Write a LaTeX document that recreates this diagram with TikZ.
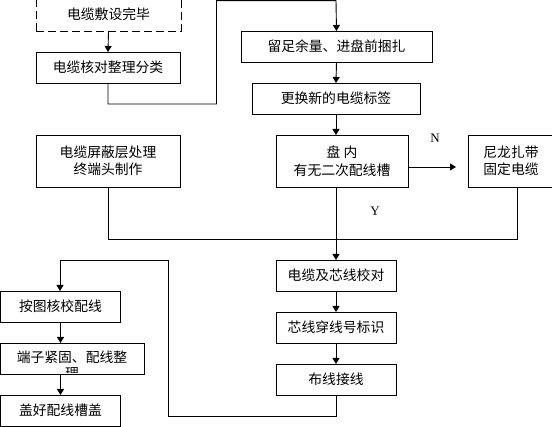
\documentclass[tikz,border=0pt]{standalone}
\usepackage{fontspec}
\newfontfamily\cjk{Noto Sans CJK SC}
\newfontfamily\latinserif{Liberation Serif}
\usetikzlibrary{arrows.meta}
\tikzset{
  box/.style={draw, line width=0.9pt, rectangle, inner sep=0pt, outer sep=0pt, align=center,
    font=\cjk\fontsize{13.8}{17.5}\selectfont},
  dbox/.style={box, dash pattern=on 8pt off 4pt},
  conn/.style={line width=0.9pt},
  arr/.style={conn, -{Triangle[length=6pt,width=7pt]}},
  lbl/.style={font=\latinserif\fontsize{13}{13}\selectfont, inner sep=0pt}
}
\begin{document}
\begin{tikzpicture}[x=1pt,y=-1pt]
\useasboundingbox (0,0) rectangle (552,427);
\fill[white] (0,0) rectangle (552,427);
\begin{scope}
\clip (0,0) rectangle (552,427);
% nodes
\node[dbox, minimum width=145pt, minimum height=33pt] (b1) at (108.5,14.5) {电缆敷设完毕};
\node[box, minimum width=144pt, minimum height=31pt] (b2) at (108,67.5) {电缆核对整理分类};
\node[box, minimum width=191pt, minimum height=31pt] (b3) at (336.5,46.5) {留足余量、进盘前捆扎};
\node[box, minimum width=168pt, minimum height=31pt] (b4) at (336,98.5) {更换新的电缆标签};
\node[box, minimum width=144pt, minimum height=52pt] (b5) at (108,161) {电缆屏蔽层处理\\终端头制作};
\node[box, minimum width=132pt, minimum height=52pt] (b6) at (342,161) {盘 内\\有无二次配线槽};
\node[box, minimum width=86pt, minimum height=52pt] (b7) at (511,161) {尼龙扎带\\固定电缆};
\node[box, minimum width=120pt, minimum height=31pt] (b8) at (336,275.5) {电缆及芯线校对};
\node[box, minimum width=120pt, minimum height=31pt] (b9) at (336,327.5) {芯线穿线号标识};
\node[box, minimum width=120pt, minimum height=31pt] (b10) at (336,379.5) {布线接线};
\node[box, minimum width=120pt, minimum height=31pt] (b11) at (60.5,306.5) {按图核校配线};
\node[box, minimum width=143.5pt, minimum height=31pt] (b12) at (72.25,358.5) {};
\node[font=\cjk\fontsize{13.8}{17.5}\selectfont, inner sep=0pt] (b12t) at (72,357.5) {端子紧固、配线整};
\begin{scope}
\clip (1,344) rectangle (143.5,372.6);
\node[font=\cjk\fontsize{13.8}{17.5}\selectfont, inner sep=0pt] (b12u) at (72,373.3) {理};
\end{scope}
\node[box, minimum width=120pt, minimum height=31pt] (b13) at (60.5,410.5) {盖好配线槽盖};
% labels
\node[lbl] (ln) at (435,138) {N};
\node[lbl] (ly) at (375,211) {Y};
% helper coordinates
\coordinate (c1) at (108,104);
\coordinate (c2) at (216.5,104);
\coordinate (c3) at (216.5,0.6);
\coordinate (c4) at (336,0.6);
\coordinate (nend) at (456,167);
\coordinate (j) at (517,239);
\coordinate (d1) at (336,416);
\coordinate (d2) at (168,416);
\coordinate (d3) at (168,260);
\coordinate (d4) at (60,260);
% connectors
\draw[arr] (b1.south) -- (b2.north);
\draw[arr] (b2.south) -- (c1) -- (c2) -- (c3) -- (c4) -- (b3.north);
\draw[arr] (b3.south) -- (b4.north);
\draw[arr] (b4.south) -- (b4.south |- b6.north);
\draw[arr] (b6.east |- nend) -- (nend);
\draw[arr] (b6.south -| b8.north) -- (b8.north);
\draw[conn] (b5.south) |- (j) -- (j |- b7.south);
\draw[arr] (b8.south) -- (b9.north);
\draw[arr] (b9.south) -- (b10.north);
\draw[arr] (b10.south) -- (d1) -- (d2) -- (d3) -- (d4) -- (d4 |- b11.north);
\draw[arr] (b11.south) -- (b11.south |- b12.north);
\draw[arr] (b11.south |- b12.south) -- (b11.south |- b13.north);
\end{scope}
\end{tikzpicture}
\end{document}
